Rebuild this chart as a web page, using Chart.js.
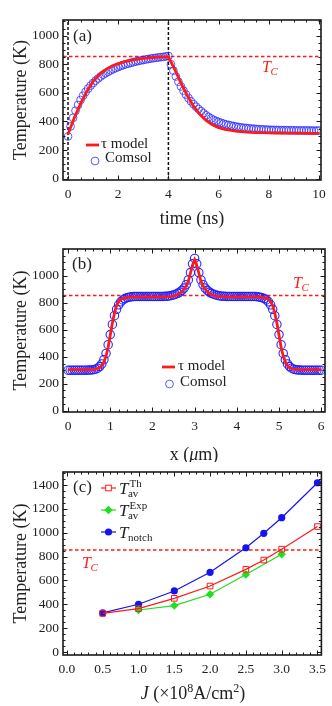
<!DOCTYPE html>
<html><head><meta charset="utf-8">
<script src="https://cdn.jsdelivr.net/npm/chart.js@4.4.1/dist/chart.umd.min.js"></script>
<style>
html,body{margin:0;padding:0;background:#fff;width:332px;height:706px;overflow:hidden;}
body{position:relative}
canvas{position:absolute;left:0}
</style></head><body>
<canvas id="ca" width="332" height="230" style="top:0px"></canvas>
<canvas id="cb" width="332" height="236" style="top:226px"></canvas>
<canvas id="cc" width="332" height="256" style="top:450px"></canvas>
<script>
// ---------- DATA ----------
const TC = 855;

// Panel (a): temperature vs time
const aTimeModel = [0,0.25,0.5,0.75,1,1.25,1.5,1.75,2,2.25,2.5,2.75,3,3.25,3.5,3.75,4,
  4.25,4.5,4.75,5,5.25,5.5,5.75,6,6.25,6.5,6.75,7,7.25,7.5,7.75,8,8.25,8.5,8.75,9,9.25,9.5,9.75,10];
const aTempModel = [310,425,525,610,680,728,763,788,805,818,828,835,841,845,848,851,853,
  765,668,582,507,450,407,377,357,345,337,331,327,324,322,321,320,319,319,318,318,318,317,317,317];
const aTimeComsol = [0,0.1,0.2,0.3,0.4,0.5,0.6,0.7,0.8,0.9,1,1.1,1.2,1.3,1.4,1.5,1.6,1.7,1.8,1.9,
  2,2.1,2.2,2.3,2.4,2.5,2.6,2.7,2.8,2.9,3,3.1,3.2,3.3,3.4,3.5,3.6,3.7,3.8,3.9,4,
  4.1,4.2,4.3,4.4,4.5,4.6,4.7,4.8,4.9,5,5.1,5.2,5.3,5.4,5.5,5.6,5.7,5.8,5.9,6,
  6.1,6.2,6.3,6.4,6.5,6.6,6.7,6.8,6.9,7,7.1,7.2,7.3,7.4,7.5,7.6,7.7,7.8,7.9,8,
  8.1,8.2,8.3,8.4,8.5,8.6,8.7,8.8,8.9,9,9.1,9.2,9.3,9.4,9.5,9.6,9.7,9.8,9.9,10];
const aTempComsol = [295,365,425,475,515,550,580,607,630,651,669,686,701,715,727,738,748,757,766,774,
  781,788,794,800,805,810,815,819,823,827,830,834,837,840,843,845,848,850,852,855,858,
  800,755,715,678,645,615,588,563,541,521,503,487,472,457,443,431,421,411,403,396,
  390,384,379,375,371,367,364,361,358,356,354,352,350,349,347,346,345,344,343,342,
  341,341,340,340,339,339,339,338,338,338,337,337,337,337,337,337,336,336,336,336];
const aPulseEdges = [0, 4];
const aXTicks = [0,2,4,6,8,10];
const aYTicks = [0,200,400,600,800,1000];

// Panel (b): temperature vs position
const bX = [0,0.05,0.1,0.15,0.2,0.25,0.3,0.35,0.4,0.45,0.5,0.55,0.6,0.65,0.7,0.75,0.8,0.85,0.9,0.95,
  1,1.05,1.1,1.15,1.2,1.25,1.3,1.35,1.4,1.45,1.5,1.55,1.6,1.65,1.7,1.75,1.8,1.85,1.9,1.95,
  2,2.05,2.1,2.15,2.2,2.25,2.3,2.35,2.4,2.45,2.5,2.55,2.6,2.65,2.7,2.75,2.8,2.85,2.9,2.95,
  3,3.05,3.1,3.15,3.2,3.25,3.3,3.35,3.4,3.45,3.5,3.55,3.6,3.65,3.7,3.75,3.8,3.85,3.9,3.95,
  4,4.05,4.1,4.15,4.2,4.25,4.3,4.35,4.4,4.45,4.5,4.55,4.6,4.65,4.7,4.75,4.8,4.85,4.9,4.95,
  5,5.05,5.1,5.15,5.2,5.25,5.3,5.35,5.4,5.45,5.5,5.55,5.6,5.65,5.7,5.75,5.8,5.85,5.9,5.95,6];
const bTempModel = [305,305,305,305,305,305,305,305,305,305,305,305,306,308,312,320,335,362,405,470,
  560,650,725,780,812,826,834,838,841,843,844,845,845,845,845,845,845,845,845,845,
  845,845,845,845,845,845,845,846,847,849,852,856,862,870,885,902,926,962,1020,1080,
  1120,1080,1020,962,926,902,885,870,862,856,852,849,847,846,845,845,845,845,845,845,
  845,845,845,845,845,845,845,845,845,845,844,843,841,838,834,826,812,780,725,650,
  560,470,405,362,335,320,312,308,306,305,305,305,305,305,305,305,305,305,305,305,305];
const bTempComsol = [300,300,300,300,300,300,300,300,300,300,301,302,304,308,315,327,347,378,425,490,
  565,640,705,752,786,808,822,832,838,842,845,848,848,848,848,848,848,848,848,848,
  848,848,848,848,848,848,849,850,852,855,859,864,871,880,893,910,935,970,1025,1090,
  1130,1090,1025,970,935,910,893,880,871,864,859,855,852,850,849,848,848,848,848,848,
  848,848,848,848,848,848,848,848,848,848,845,842,838,832,822,808,786,752,705,640,
  565,490,425,378,347,327,315,308,304,302,301,300,300,300,300,300,300,300,300,300,300];
const bXTicks = [0,1,2,3,4,5,6];
const bYTicks = [0,200,400,600,800,1000];

// Panel (c): temperature vs current density
const cJ = [0.5,1.0,1.5,2.0,2.5,2.75,3.0,3.5];
const cTavTh = [324,364,450,553,693,771,862,1052];
const cTnotch = [328,400,512,668,874,995,1126,1419];
const cJExp = [1.0,1.5,2.0,2.5,3.0];
const cTavExp = [352,389,484,650,819];
const cXTicks = [0,0.5,1.0,1.5,2.0,2.5,3.0,3.5];
const cYTicks = [0,200,400,600,800,1000,1200,1400];

// ---------- HELPERS ----------
const SERIF = '"Liberation Serif", "DejaVu Serif", serif';
const TXT = '#222';
const RED = '#ff1a1a';
const pts = (xs, ys) => xs.map((x, i) => ({x, y: ys[i]}));

function makeFrame(xMinor, yMinor) {
  return {
    id: 'frame',
    afterDatasetsDraw(chart) {
      const {ctx, chartArea: a, scales: {x, y}} = chart;
      ctx.save();
      ctx.strokeStyle = '#1a1a1a';
      ctx.lineWidth = 1;
      const minorVals = (s, step) => {
        const out = [];
        for (let v = Math.ceil(s.min / step) * step; v <= s.max + 1e-9; v += step) out.push(+v.toFixed(6));
        return out;
      };
      const tx = (v, len) => {
        const p = Math.round(x.getPixelForValue(v)) + 0.5;
        ctx.beginPath();
        ctx.moveTo(p, a.bottom); ctx.lineTo(p, a.bottom - len);
        ctx.moveTo(p, a.top); ctx.lineTo(p, a.top + len);
        ctx.stroke();
      };
      const ty = (v, len) => {
        const p = Math.round(y.getPixelForValue(v)) + 0.5;
        ctx.beginPath();
        ctx.moveTo(a.left, p); ctx.lineTo(a.left + len, p);
        ctx.moveTo(a.right, p); ctx.lineTo(a.right - len, p);
        ctx.stroke();
      };
      minorVals(x, xMinor).forEach(v => tx(v, 2.5));
      minorVals(y, yMinor).forEach(v => ty(v, 2.5));
      x.ticks.forEach(t => tx(t.value, 4.5));
      y.ticks.forEach(t => ty(t.value, 4.5));
      ctx.lineWidth = 1.6;
      ctx.strokeRect(a.left, a.top, a.right - a.left, a.bottom - a.top);
      ctx.restore();
    }
  };
}

function drawSym(ctx, x, yb, base, sub, sup, size, color, subItalic) {
  ctx.save();
  ctx.fillStyle = color;
  ctx.textBaseline = 'alphabetic';
  ctx.textAlign = 'left';
  ctx.font = `italic ${size}px ${SERIF}`;
  ctx.fillText(base, x, yb);
  const w = ctx.measureText(base).width;
  const s = Math.round(size * 0.66);
  if (sup) { ctx.font = `${s}px ${SERIF}`; ctx.fillText(sup, x + w + 1, yb - size * 0.42); }
  if (sub) { ctx.font = (subItalic ? 'italic ' : '') + `${s}px ${SERIF}`; ctx.fillText(sub, x + w - 0.5, yb + size * 0.18); }
  ctx.restore();
}

function text(ctx, str, x, y, size, color, opts) {
  ctx.save();
  ctx.fillStyle = color || TXT;
  ctx.font = (opts && opts.italic ? 'italic ' : '') + `${size}px ${SERIF}`;
  ctx.textBaseline = (opts && opts.baseline) || 'middle';
  ctx.textAlign = (opts && opts.align) || 'left';
  ctx.fillText(str, x, y);
  ctx.restore();
}

function axes(cfg) {
  return {
    x: {
      type: 'linear', min: cfg.xmin, max: cfg.xmax,
      afterBuildTicks: s => { s.ticks = cfg.xTicks.map(v => ({value: v})); },
      afterFit: s => { s.height = cfg.xh; },
      grid: {display: false, drawTicks: false}, border: {display: false},
      ticks: {padding: cfg.xpad, color: TXT, font: {family: SERIF, size: 13.5}, maxRotation: 0, autoSkip: false,
        callback: cfg.xfmt || (v => String(v))},
      title: cfg.xtitle ? {display: true, text: cfg.xtitle, color: TXT, font: {family: SERIF, size: 18}, padding: 0} : {display: false}
    },
    y: {
      type: 'linear', min: cfg.ymin, max: cfg.ymax,
      afterBuildTicks: s => { s.ticks = cfg.yTicks.map(v => ({value: v})); },
      afterFit: s => { s.width = 63; },
      grid: {display: false, drawTicks: false}, border: {display: false},
      ticks: {padding: 4, color: TXT, font: {family: SERIF, size: 13.5}, autoSkip: false, callback: v => String(v)},
      title: {display: true, text: 'Temperature (K)', color: TXT, font: {family: SERIF, size: 18}, padding: {top: 10, bottom: 0}}
    }
  };
}

const common = (pad) => ({
  responsive: false, animation: false, events: [],
  layout: {padding: pad},
  plugins: {legend: {display: false}, tooltip: {enabled: false}}
});

const circleStyle = (r, w, c) => ({showLine: false, pointStyle: 'circle', pointRadius: r, pointBorderWidth: w,
  pointBorderColor: c, pointBackgroundColor: 'rgba(0,0,0,0)', borderColor: c});
const BLUE_A = 'rgba(40,40,255,0.85)';
const BLUE_B = 'rgba(30,30,255,0.95)';

// ---------- PANEL A ----------
new Chart(document.getElementById('ca'), {
  type: 'scatter',
  data: {datasets: [
    {data: pts(aTimeModel, aTempModel), showLine: true, borderColor: RED, borderWidth: 2.8, pointRadius: 0, tension: 0},
    Object.assign({data: pts(aTimeComsol, aTempComsol)}, circleStyle(3.9, 0.9, BLUE_A)),
    {data: [{x: -0.2, y: TC}, {x: 10.08, y: TC}], showLine: true, borderColor: RED, borderWidth: 1.4, borderDash: [3.5, 2.5], pointRadius: 0},
    ...aPulseEdges.map(t => ({data: [{x: t, y: -10}, {x: t, y: 1110}], showLine: true, borderColor: '#111', borderWidth: 1.5, borderDash: [3, 2], pointRadius: 0}))
  ]},
  options: Object.assign(common({left: 0, top: 20, right: 11, bottom: 0}), {
    scales: axes({xmin: -0.2, xmax: 10.08, ymin: -10, ymax: 1110, xTicks: aXTicks, yTicks: aYTicks, xh: 50, xpad: 6, xtitle: 'time (ns)'})
  }),
  plugins: [makeFrame(0.5, 50), {
    id: 'annA',
    afterDraw(chart) {
      const ctx = chart.ctx;
      text(ctx, '(a)', 73, 37, 17);
      drawSym(ctx, 262, 72, 'T', 'C', null, 16, RED, true);
      ctx.save();
      ctx.strokeStyle = RED; ctx.lineWidth = 2.8;
      ctx.beginPath(); ctx.moveTo(86, 145); ctx.lineTo(99, 145); ctx.stroke();
      ctx.strokeStyle = BLUE_A; ctx.lineWidth = 0.9;
      ctx.beginPath(); ctx.arc(95, 161, 3.9, 0, Math.PI * 2); ctx.stroke();
      ctx.restore();
      text(ctx, 'τ model', 101, 144, 15);
      text(ctx, 'Comsol', 105, 158, 15);
    }
  }]
});

// ---------- PANEL B ----------
new Chart(document.getElementById('cb'), {
  type: 'scatter',
  data: {datasets: [
    {data: pts(bX, bTempModel), showLine: true, borderColor: RED, borderWidth: 2.8, pointRadius: 0, tension: 0},
    Object.assign({data: pts(bX, bTempComsol)}, circleStyle(4.2, 1.1, BLUE_B)),
    {data: [{x: -0.12, y: TC}, {x: 6.09, y: TC}], showLine: true, borderColor: RED, borderWidth: 1.4, borderDash: [3.5, 2.5], pointRadius: 0}
  ]},
  options: Object.assign(common({left: 0, top: 23, right: 7, bottom: 0}), {
    scales: axes({xmin: -0.12, xmax: 6.09, ymin: -10, ymax: 1200, xTicks: bXTicks, yTicks: bYTicks, xh: 50, xpad: 6})
  }),
  plugins: [makeFrame(0.2, 50), {
    id: 'annB',
    afterDraw(chart) {
      const ctx = chart.ctx;
      text(ctx, '(b)', 72, 39, 17);
      drawSym(ctx, 293, 62, 'T', 'C', null, 16, RED, true);
      ctx.save();
      ctx.strokeStyle = RED; ctx.lineWidth = 2.8;
      ctx.beginPath(); ctx.moveTo(162, 141); ctx.lineTo(175, 141); ctx.stroke();
      ctx.strokeStyle = BLUE_A; ctx.lineWidth = 0.9;
      ctx.beginPath(); ctx.arc(169.5, 158, 3.9, 0, Math.PI * 2); ctx.stroke();
      ctx.restore();
      text(ctx, 'τ model', 178, 140, 15);
      text(ctx, 'Comsol', 180, 156, 15);
      // x-axis title
      ctx.save();
      ctx.fillStyle = TXT; ctx.textBaseline = 'middle';
      const p1 = 'x (', p3 = 'm)';
      ctx.font = `18px ${SERIF}`; const w1 = ctx.measureText(p1).width, w3 = ctx.measureText(p3).width;
      ctx.font = `italic 18px ${SERIF}`; const w2 = ctx.measureText('μ').width;
      let x0 = 194 - (w1 + w2 + w3) / 2;
      ctx.font = `18px ${SERIF}`; ctx.fillText(p1, x0, 229);
      ctx.font = `italic 18px ${SERIF}`; ctx.fillText('μ', x0 + w1, 229);
      ctx.font = `18px ${SERIF}`; ctx.fillText(p3, x0 + w1 + w2, 229);
      ctx.restore();
    }
  }]
});

// ---------- PANEL C ----------
const lineW = 1.2;
new Chart(document.getElementById('cc'), {
  type: 'scatter',
  data: {datasets: [
    {data: pts(cJ, cTavTh), showLine: true, borderColor: RED, borderWidth: lineW, tension: 0,
      pointStyle: 'rect', pointRadius: 4, pointBorderWidth: 1, pointBorderColor: RED, pointBackgroundColor: 'rgba(255,255,255,0)'},
    {data: pts(cJExp, cTavExp), showLine: true, borderColor: '#1ee01e', borderWidth: lineW, tension: 0,
      pointStyle: 'rectRot', pointRadius: 4.2, pointBorderWidth: 0, pointBackgroundColor: '#1ee01e'},
    {data: pts(cJ, cTnotch), showLine: true, borderColor: '#1414f0', borderWidth: lineW, tension: 0,
      pointStyle: 'circle', pointRadius: 3.6, pointBorderWidth: 0, pointBackgroundColor: '#1414f0'},
    {data: [{x: -0.055, y: TC}, {x: 3.555, y: TC}], showLine: true, borderColor: RED, borderWidth: 1.4, borderDash: [3.5, 2.5], pointRadius: 0}
  ]},
  options: Object.assign(common({left: 0, top: 22, right: 7, bottom: 0}), {
    scales: axes({xmin: -0.055, xmax: 3.555, ymin: -25, ymax: 1509, xTicks: cXTicks, yTicks: cYTicks, xh: 51, xpad: 6,
      xfmt: v => v.toFixed(1)})
  }),
  plugins: [makeFrame(0.1, 50), {
    id: 'annC',
    afterDraw(chart) {
      const ctx = chart.ctx;
      text(ctx, '(c)', 73, 38, 17);
      drawSym(ctx, 82, 118, 'T', 'C', null, 16, RED, true);
      const rows = [
        {y: 38, color: RED, marker: 'sq', sub: 'av', sup: 'Th'},
        {y: 60, color: '#1ee01e', marker: 'dia', sub: 'av', sup: 'Exp'},
        {y: 82, color: '#1414f0', marker: 'dot', sub: 'notch', sup: null}
      ];
      rows.forEach(r => {
        ctx.save();
        ctx.strokeStyle = r.color; ctx.fillStyle = r.color; ctx.lineWidth = lineW;
        ctx.beginPath(); ctx.moveTo(101, r.y); ctx.lineTo(116, r.y); ctx.stroke();
        const cx = 108.5;
        if (r.marker === 'sq') {
          ctx.fillStyle = '#fff'; ctx.fillRect(cx - 2.8, r.y - 2.8, 5.6, 5.6);
          ctx.lineWidth = 1; ctx.strokeRect(cx - 2.8, r.y - 2.8, 5.6, 5.6);
        } else if (r.marker === 'dia') {
          ctx.beginPath(); ctx.moveTo(cx - 4.2, r.y); ctx.lineTo(cx, r.y - 4.2); ctx.lineTo(cx + 4.2, r.y); ctx.lineTo(cx, r.y + 4.2); ctx.closePath(); ctx.fill();
        } else {
          ctx.beginPath(); ctx.arc(cx, r.y, 3.6, 0, Math.PI * 2); ctx.fill();
        }
        ctx.restore();
        drawSym(ctx, 119, r.y + 6, 'T', r.sub, r.sup, 17, TXT, false);
      });
      // x-axis title: J (×10^8 A/cm^2)
      ctx.save();
      ctx.fillStyle = TXT; ctx.textBaseline = 'alphabetic';
      const yb = 249;
      const parts = [
        {t: 'J', f: `italic 18px ${SERIF}`, dy: 0},
        {t: ' (×10', f: `18px ${SERIF}`, dy: 0},
        {t: '8', f: `12px ${SERIF}`, dy: -7},
        {t: 'A/cm', f: `18px ${SERIF}`, dy: 0},
        {t: '2', f: `12px ${SERIF}`, dy: -7},
        {t: ')', f: `18px ${SERIF}`, dy: 0}
      ];
      let tw = 0;
      parts.forEach(p => { ctx.font = p.f; p.w = ctx.measureText(p.t).width; tw += p.w; });
      let x0 = 193 - tw / 2;
      parts.forEach(p => { ctx.font = p.f; ctx.fillText(p.t, x0, yb + p.dy); x0 += p.w; });
      ctx.restore();
    }
  }]
});
</script>
</body></html>
